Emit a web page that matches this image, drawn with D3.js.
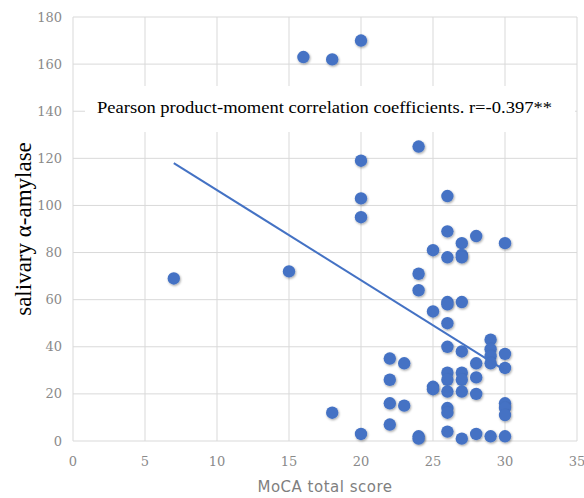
<!DOCTYPE html>
<html>
<head>
<meta charset="utf-8">
<script src="https://cdn.jsdelivr.net/npm/d3@7"></script>
<style>
  body { margin: 0; background: #fff; }
  svg { display: block; }
</style>
</head>
<body>
<svg id="chart" width="584" height="498"></svg>
<script>
// MoCA total score vs salivary alpha-amylase
var mocaScore = [7, 15, 16, 18, 20, 20, 20, 20, 24, 26, 26, 27, 28, 30, 25,
  26, 27, 27, 24, 24, 27, 26, 26, 25, 26, 29, 29, 29, 29, 26, 27, 30,
  22, 23, 28, 30, 26, 26, 27, 27, 28, 22, 25, 25, 26, 27, 28, 22, 23,
  26, 26, 18, 30, 30, 30, 22, 20, 24, 24, 26, 27, 28, 29, 30];
var amylase = [69, 72, 163, 162, 170, 119, 103, 95, 125, 104, 89, 84, 87, 84, 81,
  78, 79, 78, 71, 64, 59, 59, 58, 55, 50, 43, 39, 36, 33, 40, 38, 37,
  35, 33, 33, 31, 29, 26, 29, 26, 27, 26, 23, 22, 21, 21, 20, 16, 15,
  14, 12, 12, 16, 14, 11, 7, 3, 2, 1, 4, 1, 3, 2, 2];

var trendX = [7, 30];
var trendY = [118, 30];

var xTicks = [0, 5, 10, 15, 20, 25, 30, 35];
var yTicks = [0, 20, 40, 60, 80, 100, 120, 140, 160, 180];

var noteText = "Pearson product-moment correlation coefficients. r=-0.397**";

var svg = d3.select("#chart");

var x = d3.scaleLinear().domain([0, 35]).range([73, 577]);
var y = d3.scaleLinear().domain([0, 180]).range([441, 17]);

var defs = svg.append("defs");
var shadow = defs.append("filter").attr("id", "shadow")
  .attr("x", "-50%").attr("y", "-50%").attr("width", "200%").attr("height", "200%");
shadow.append("feDropShadow")
  .attr("dx", 0.8).attr("dy", 1.2).attr("stdDeviation", 1)
  .attr("flood-color", "#000").attr("flood-opacity", 0.35);

// gridlines
svg.append("g").selectAll("line.h")
  .data(yTicks).enter().append("line")
  .attr("x1", x(0)).attr("x2", x(35))
  .attr("y1", function(d){ return y(d); })
  .attr("y2", function(d){ return y(d); })
  .attr("stroke", "#d9d9d9").attr("stroke-width", 1);

svg.append("g").selectAll("line.v")
  .data(xTicks).enter().append("line")
  .attr("y1", y(0)).attr("y2", y(180))
  .attr("x1", function(d){ return x(d); })
  .attr("x2", function(d){ return x(d); })
  .attr("stroke", "#d9d9d9").attr("stroke-width", 1);

// tick labels
svg.append("g").selectAll("text")
  .data(yTicks).enter().append("text")
  .attr("x", 62).attr("y", function(d){ return y(d) + 4.5; })
  .attr("text-anchor", "end")
  .attr("font-family", "DejaVu Serif").attr("font-size", 13)
  .attr("fill", "#8a8a8a")
  .text(function(d){ return d; });

svg.append("g").selectAll("text")
  .data(xTicks).enter().append("text")
  .attr("x", function(d){ return x(d); }).attr("y", 466)
  .attr("text-anchor", "middle")
  .attr("font-family", "DejaVu Serif").attr("font-size", 13)
  .attr("fill", "#8a8a8a")
  .text(function(d){ return d; });

// axis titles
svg.append("text")
  .attr("x", 325).attr("y", 492)
  .attr("text-anchor", "middle")
  .attr("font-family", "DejaVu Sans").attr("font-size", 15)
  .attr("letter-spacing", 0.5)
  .attr("fill", "#7f7f7f")
  .text("MoCA total score");

svg.append("text")
  .attr("transform", "translate(31,229) rotate(-90)")
  .attr("text-anchor", "middle")
  .attr("font-family", "Liberation Serif").attr("font-size", 23)
  .attr("fill", "#000")
  .text("salivary α-amylase");

// annotation box
svg.append("rect")
  .attr("x", 85).attr("y", 86).attr("width", 490).attr("height", 46)
  .attr("fill", "#fff");

svg.append("text")
  .attr("x", 97).attr("y", 113)
  .attr("font-family", "Liberation Serif").attr("font-size", 17)
  .attr("fill", "#000")
  .attr("textLength", 455).attr("lengthAdjust", "spacingAndGlyphs")
  .text(noteText);

// points
var pts = mocaScore.map(function(d, i){ return {x: d, y: amylase[i]}; });
svg.append("g").selectAll("circle")
  .data(pts).enter().append("circle")
  .attr("cx", function(d){ return x(d.x); })
  .attr("cy", function(d){ return y(d.y); })
  .attr("r", 6.2)
  .attr("fill", "#4472c4")
  .attr("filter", "url(#shadow)");

// trend line
svg.append("line")
  .attr("x1", x(trendX[0])).attr("y1", y(trendY[0]))
  .attr("x2", x(trendX[1])).attr("y2", y(trendY[1]))
  .attr("stroke", "#4472c4").attr("stroke-width", 2);
</script>
</body>
</html>
